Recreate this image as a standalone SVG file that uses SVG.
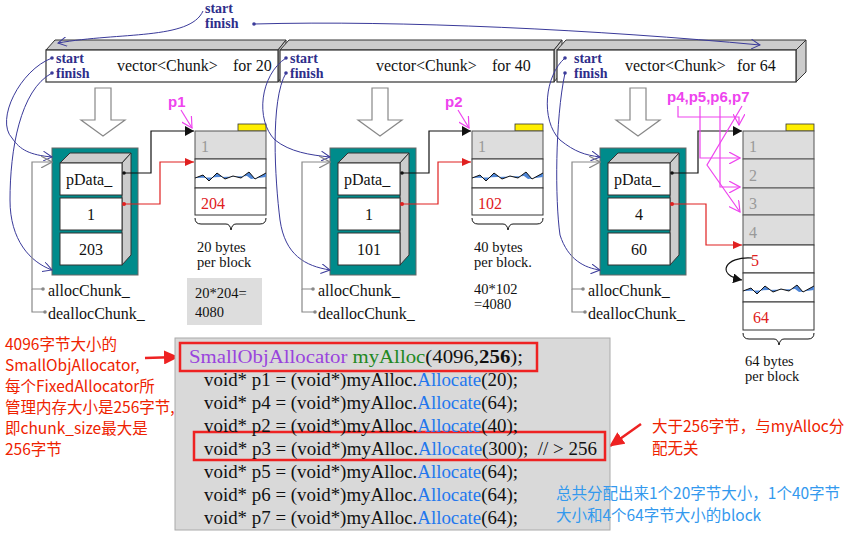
<svg xmlns="http://www.w3.org/2000/svg" width="855" height="543" viewBox="0 0 855 543">
<defs>
<style>
.t{font-family:"Liberation Serif",serif;font-size:16px;fill:#111}
.s{font-size:14.5px}
.b{font-family:"Liberation Serif",serif;font-size:14px;font-weight:bold;fill:#2e2e8a}
.bar{fill:#fff;stroke:#333;stroke-width:1.2}
.side{fill:#ccc;stroke:#333;stroke-width:1}
.blk{fill:#fff;stroke:#333;stroke-width:1}
.blu{fill:none;stroke:#3a3a9a;stroke-width:1}
.gry{fill:none;stroke:#888;stroke-width:1.2}
.red{fill:none;stroke:#e02020;stroke-width:1.2}
.blk2{fill:none;stroke:#111;stroke-width:1.2}
.mag{fill:none;stroke:#ee44ee;stroke-width:1.2}
.cn{font-family:"Noto Sans CJK SC",sans-serif;font-size:15.5px}
.code{font-family:"Liberation Serif",serif;font-size:19px;fill:#111}
.ac{fill:#2277ee}
.p{font-family:"Liberation Sans",sans-serif;font-weight:bold;font-size:15px;fill:#ee44ee}
</style>
<marker id="ab" markerWidth="10" markerHeight="10" refX="9" refY="5" orient="auto" markerUnits="userSpaceOnUse"><path d="M0,0 L9,5 L0,10" fill="none" stroke="#3a3a9a"/></marker>
<marker id="ag" markerWidth="12" markerHeight="12" refX="11" refY="6" orient="auto" markerUnits="userSpaceOnUse"><path d="M0,0 L11,6 L0,12" fill="none" stroke="#888" stroke-width="1.2"/></marker>
<marker id="ak" markerWidth="10" markerHeight="10" refX="9" refY="5" orient="auto" markerUnits="userSpaceOnUse"><path d="M0,0 L9,5 L0,10 Z" fill="#111"/></marker>
<marker id="ar" markerWidth="10" markerHeight="10" refX="9" refY="5" orient="auto" markerUnits="userSpaceOnUse"><path d="M0,1 L9,5 L0,9 Z" fill="#e02020"/></marker>
<marker id="am" markerWidth="12" markerHeight="12" refX="11" refY="6" orient="auto" markerUnits="userSpaceOnUse"><path d="M0,0 L11,6 L0,12" fill="none" stroke="#ee44ee" stroke-width="1.2"/></marker>
<marker id="aR" markerWidth="16" markerHeight="14" refX="14" refY="7" orient="auto" markerUnits="userSpaceOnUse"><path d="M0,0 L15,7 L0,14 Z" fill="#ee2222"/></marker>
<g id="dn"><path d="M-8,0 H8 V32 H22 L0,48 L-22,32 H-8 Z" fill="#fff" stroke="#888" stroke-width="1.2"/></g>
<g id="wave"><path d="M0,15 L8,12 L14,18 L22,10 L30,16 L38,13 L46,15 L54,9 L60,16 L71,10 L71,14 L56,16 L52,13 Z" fill="#4f86d6" stroke="none"/><path d="M0,15 L8,12 L14,18 L22,10 L30,16 L38,13 L46,15 L54,9 L60,16 L71,10" fill="none" stroke="#111" stroke-width="1"/></g>
</defs>
<rect width="855" height="543" fill="#fff"/>

<g id="top-start-finish"><text class="b" x="205" y="13">start</text><text class="b" x="205" y="28">finish</text></g>

<g id="vector20"><path class="side" d="M46,50 L55,40 H286 L278,50 Z" fill="#fff"/><path class="side" d="M278,50 L286,40 V72 L278,82 Z"/><rect class="bar" x="46" y="50" width="232" height="32"/>
<text class="b" x="56" y="63">start</text><text class="b" x="56" y="78">finish</text><text class="t" x="117" y="71" font-size="15">vector&lt;Chunk&gt;</text><text class="t" x="233" y="71" font-size="15">for 20</text></g>
<g id="vector40"><path class="side" d="M280,50 L289,40 H562 L554,50 Z" fill="#fff"/><path class="side" d="M554,50 L562,40 V72 L554,82 Z"/><rect class="bar" x="280" y="50" width="274" height="32"/>
<text class="b" x="290" y="63">start</text><text class="b" x="290" y="78">finish</text><text class="t" x="376" y="71" font-size="15">vector&lt;Chunk&gt;</text><text class="t" x="492" y="71" font-size="15">for 40</text></g>
<g id="vector64"><path class="side" d="M557,50 L566,40 H806 L796,50 Z" fill="#fff"/><path class="side" d="M796,50 L806,40 V72 L796,82 Z"/><rect class="bar" x="557" y="50" width="239" height="32"/>
<text class="b" x="574" y="63">start</text><text class="b" x="574" y="78">finish</text><text class="t" x="625" y="71" font-size="15">vector&lt;Chunk&gt;</text><text class="t" x="737" y="71" font-size="15">for 64</text></g>

<use href="#dn" x="103" y="88"/><use href="#dn" x="380" y="88"/><use href="#dn" x="638" y="88"/>

<g id="chunk20">
<rect x="52" y="148" width="86" height="127" fill="#008b8b" stroke="#666"/>
<path class="side" d="M60,163 L70,153 H131 L122,163 Z" fill="#fff"/>
<path class="side" d="M122,163 L131,153 V255 L122,265 Z"/>
<rect class="blk" x="60" y="163" width="62" height="32"/><rect class="blk" x="60" y="198" width="62" height="32"/><rect class="blk" x="60" y="233" width="62" height="32"/>
<text class="t" x="66" y="185">pData_</text><text class="t" x="91" y="220" text-anchor="middle">1</text><text class="t" x="91" y="255" text-anchor="middle">203</text>
<text class="t" x="48" y="296" font-size="17">allocChunk_</text><text class="t" x="48" y="319" font-size="17">deallocChunk_</text>
</g>
<g id="chunk40">
<rect x="330" y="148" width="86" height="127" fill="#008b8b" stroke="#666"/>
<path class="side" d="M338,163 L348,153 H409 L400,163 Z" fill="#fff"/>
<path class="side" d="M400,163 L409,153 V255 L400,265 Z"/>
<rect class="blk" x="338" y="163" width="62" height="32"/><rect class="blk" x="338" y="198" width="62" height="32"/><rect class="blk" x="338" y="233" width="62" height="32"/>
<text class="t" x="344" y="185">pData_</text><text class="t" x="369" y="220" text-anchor="middle">1</text><text class="t" x="369" y="255" text-anchor="middle">101</text>
<text class="t" x="318" y="296" font-size="17">allocChunk_</text><text class="t" x="318" y="319" font-size="17">deallocChunk_</text>
</g>
<g id="chunk64">
<rect x="600" y="148" width="86" height="127" fill="#008b8b" stroke="#666"/>
<path class="side" d="M608,163 L618,153 H679 L670,163 Z" fill="#fff"/>
<path class="side" d="M670,163 L679,153 V255 L670,265 Z"/>
<rect class="blk" x="608" y="163" width="62" height="32"/><rect class="blk" x="608" y="198" width="62" height="32"/><rect class="blk" x="608" y="233" width="62" height="32"/>
<text class="t" x="614" y="185">pData_</text><text class="t" x="639" y="220" text-anchor="middle">4</text><text class="t" x="639" y="255" text-anchor="middle">60</text>
<text class="t" x="588" y="296" font-size="17">allocChunk_</text><text class="t" x="588" y="319" font-size="17">deallocChunk_</text>
</g>

<g id="mem20">
<rect x="238" y="124" width="28" height="7" fill="#ffee00" stroke="#333" stroke-width="0.8"/>
<rect x="195" y="131" width="71" height="28" fill="#ddd" stroke="#555"/>
<rect x="195" y="159" width="71" height="29" class="blk"/><rect x="195" y="188" width="71" height="27" class="blk"/>
<use href="#wave" x="195" y="163"/>
<text class="t" x="201" y="152" style="fill:#999">1</text><text class="t" x="201" y="209" style="fill:#e02020">204</text>
<path d="M195,218 q0,6 6,6 H226 q4,0 5,6 q1,-6 5,-6 H260 q6,0 6,-6" fill="none" stroke="#111"/>
<text class="t s" x="197" y="252">20 bytes</text><text class="t s" x="197" y="267">per block</text>
<rect x="187" y="278" width="75" height="47" fill="#ddd"/>
<text class="t s" x="195" y="298">20*204=</text><text class="t s" x="195" y="317">4080</text>
</g>
<g id="mem40">
<rect x="515" y="124" width="28" height="7" fill="#ffee00" stroke="#333" stroke-width="0.8"/>
<rect x="472" y="131" width="71" height="28" fill="#ddd" stroke="#555"/>
<rect x="472" y="159" width="71" height="29" class="blk"/><rect x="472" y="188" width="71" height="27" class="blk"/>
<use href="#wave" x="472" y="163"/>
<text class="t" x="478" y="152" style="fill:#999">1</text><text class="t" x="478" y="209" style="fill:#e02020">102</text>
<path d="M472,218 q0,6 6,6 H503 q4,0 5,6 q1,-6 5,-6 H537 q6,0 6,-6" fill="none" stroke="#111"/>
<text class="t s" x="474" y="252">40 bytes</text><text class="t s" x="474" y="267">per block.</text>
<text class="t s" x="474" y="294">40*102</text><text class="t s" x="474" y="309">=4080</text>
</g>
<g id="mem64">
<rect x="786" y="124" width="28" height="7" fill="#ffee00" stroke="#333" stroke-width="0.8"/>
<rect x="743" y="131" width="71" height="28" fill="#ddd" stroke="#555"/>
<rect x="743" y="159" width="71" height="29" fill="#ddd" stroke="#555"/>
<rect x="743" y="188" width="71" height="27" fill="#ddd" stroke="#555"/>
<rect x="743" y="215" width="71" height="30" fill="#ddd" stroke="#555"/>
<rect x="743" y="245" width="71" height="28" class="blk"/><rect x="743" y="273" width="71" height="29" class="blk"/><rect x="743" y="302" width="71" height="28" class="blk"/>
<use href="#wave" x="743" y="276"/>
<text class="t" x="749" y="152" style="fill:#999">1</text><text class="t" x="749" y="181" style="fill:#999">2</text><text class="t" x="749" y="209" style="fill:#999">3</text><text class="t" x="749" y="238" style="fill:#999">4</text>
<text class="t" x="751" y="266" font-size="15" style="fill:#e02020">5</text><text class="t" x="753" y="323" font-size="15" style="fill:#e02020">64</text>
<path d="M743,333 q0,6 6,6 H774 q4,0 5,6 q1,-6 5,-6 H808 q6,0 6,-6" fill="none" stroke="#111"/>
<text class="t s" x="745" y="366">64 bytes</text><text class="t s" x="745" y="381">per block</text>
</g>

<g id="connectors">
<path class="blu" d="M254,24 C400,20 600,30 760,45" marker-end="url(#ab)"/>
<circle cx="254" cy="24" r="1.8" fill="#3a3a9a"/>
<path class="blu" d="M203,11 C190,40 120,32 58,43" marker-end="url(#ab)"/>
<path class="blu" d="M52,58 C20,70 -5,120 12,138 C20,150 30,155 52,157" marker-end="url(#ab)"/>
<path class="blu" d="M52,73 C20,90 10,150 10,200 C10,240 30,262 52,270" marker-end="url(#ab)"/>
<path class="blu" d="M286,58 C260,75 255,120 275,140 C290,152 310,155 330,157" marker-end="url(#ab)"/>
<path class="blu" d="M286,73 C270,100 275,180 280,220 C285,255 305,266 330,270" marker-end="url(#ab)"/>
<path class="blu" d="M565,58 C545,75 540,120 560,140 C575,152 585,155 600,157" marker-end="url(#ab)"/>
<path class="blu" d="M565,73 C555,120 555,200 560,235 C568,260 585,268 600,270" marker-end="url(#ab)"/>
<g fill="#3a3a9a"><circle cx="52" cy="58" r="1.8"/><circle cx="52" cy="73" r="1.8"/><circle cx="286" cy="58" r="1.8"/><circle cx="286" cy="73" r="1.8"/><circle cx="565" cy="58" r="1.8"/><circle cx="565" cy="73" r="1.8"/></g>
<path class="gry" d="M43,289 H32 V162 H52" marker-end="url(#ag)"/><path class="gry" d="M45,312 H32 V289"/>
<path class="gry" d="M313,289 H302 V162 H330" marker-end="url(#ag)"/><path class="gry" d="M315,312 H302 V289"/>
<path class="gry" d="M583,289 H572 V162 H600" marker-end="url(#ag)"/><path class="gry" d="M585,312 H572 V289"/>
<g fill="#888"><circle cx="43" cy="289" r="1.8"/><circle cx="45" cy="312" r="1.8"/><circle cx="313" cy="289" r="1.8"/><circle cx="315" cy="312" r="1.8"/><circle cx="583" cy="289" r="1.8"/><circle cx="585" cy="312" r="1.8"/></g>
<path class="blk2" d="M124,173 H151 V131 H194" marker-end="url(#ak)"/>
<path class="blk2" d="M402,173 H429 V131 H471" marker-end="url(#ak)"/>
<path class="blk2" d="M672,173 H698 V131 H742" marker-end="url(#ak)"/>
<g fill="#111"><circle cx="124" cy="173" r="1.8"/><circle cx="402" cy="173" r="1.8"/><circle cx="672" cy="173" r="1.8"/></g>
<path class="red" d="M124,204 H160 V162 H194" marker-end="url(#ar)"/>
<path class="red" d="M402,204 H438 V162 H471" marker-end="url(#ar)"/>
<path class="red" d="M672,204 H706 V245 H742" marker-end="url(#ar)"/>
<g fill="#e02020"><circle cx="124" cy="204" r="2"/><circle cx="402" cy="204" r="2"/><circle cx="672" cy="204" r="2"/></g>
<path d="M752,258 C725,256 715,275 742,280" fill="none" stroke="#111" stroke-width="1.2" marker-end="url(#ak)"/>
<text class="p" x="168" y="107">p1</text><path class="mag" d="M181,110 L192,128" marker-end="url(#am)"/>
<text class="p" x="445" y="107">p2</text><path class="mag" d="M458,110 L469,128" marker-end="url(#am)"/>
<text class="p" x="667" y="102">p4,p5,p6,p7</text>
<path class="mag" d="M678,106 V117 H739 V125" marker-end="url(#am)"/>
<path class="mag" d="M700,106 V158 H740" marker-end="url(#am)"/>
<path class="mag" d="M720,106 V187 H740" marker-end="url(#am)"/>
<path class="mag" d="M742,106 L707,165 L740,212" marker-end="url(#am)"/>
<path d="M145,358 L178,357" stroke="#ee2222" stroke-width="2.5" marker-end="url(#aR)"/>
<path d="M641,424 L610,446" stroke="#ee2222" stroke-width="2.5" marker-end="url(#aR)"/>
</g>

<g id="code">
<rect x="175" y="338" width="435" height="192" fill="#d9d9d9" stroke="#aaa"/>
<rect x="180" y="343" width="357" height="28" fill="none" stroke="#ee2222" stroke-width="2.5"/>
<rect x="194" y="432" width="411" height="28" fill="none" stroke="#ee2222" stroke-width="2.5"/>
<text class="code" x="189" y="363" textLength="334" lengthAdjust="spacingAndGlyphs"><tspan fill="#9944dd">SmallObjAllocator</tspan> <tspan fill="#228822">myAlloc</tspan>(4096,<tspan font-weight="bold">256</tspan>);</text>
<text class="code" x="204" y="386" textLength="314" lengthAdjust="spacingAndGlyphs">void* p1 = (void*)myAlloc.<tspan class="ac">Allocate</tspan>(20);</text>
<text class="code" x="204" y="409" textLength="314" lengthAdjust="spacingAndGlyphs">void* p4 = (void*)myAlloc.<tspan class="ac">Allocate</tspan>(64);</text>
<text class="code" x="204" y="432" textLength="314" lengthAdjust="spacingAndGlyphs">void* p2 = (void*)myAlloc.<tspan class="ac">Allocate</tspan>(40);</text>
<text class="code" x="204" y="455" textLength="393" lengthAdjust="spacingAndGlyphs" xml:space="preserve">void* p3 = (void*)myAlloc.<tspan class="ac">Allocate</tspan>(300);  // &gt; 256</text>
<text class="code" x="204" y="478" textLength="314" lengthAdjust="spacingAndGlyphs">void* p5 = (void*)myAlloc.<tspan class="ac">Allocate</tspan>(64);</text>
<text class="code" x="204" y="501" textLength="314" lengthAdjust="spacingAndGlyphs">void* p6 = (void*)myAlloc.<tspan class="ac">Allocate</tspan>(64);</text>
<text class="code" x="204" y="524" textLength="314" lengthAdjust="spacingAndGlyphs">void* p7 = (void*)myAlloc.<tspan class="ac">Allocate</tspan>(64);</text>
</g>

<g id="notes">
<g class="cn" fill="#ee2200">
<text x="5" y="350">4096字节大小的</text><text x="5" y="371">SmallObjAllocator,</text><text x="5" y="392">每个FixedAllocator所</text><text x="5" y="413">管理内存大小是256字节,</text><text x="5" y="434">即chunk_size最大是</text><text x="5" y="455">256字节</text>
<text x="652" y="432">大于256字节，与myAlloc分</text><text x="652" y="454">配无关</text>
</g>
<g class="cn" fill="#3399ee"><text x="556" y="499">总共分配出来1个20字节大小，1个40字节</text><text x="556" y="521">大小和4个64字节大小的block</text></g>
</g>
</svg>
